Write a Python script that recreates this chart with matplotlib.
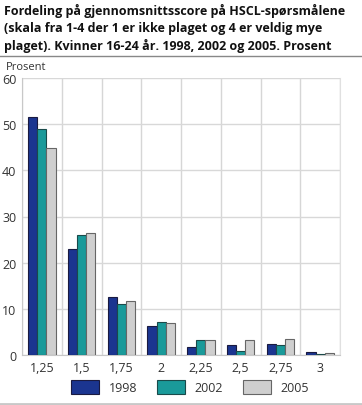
import matplotlib
matplotlib.use("Agg")
import matplotlib.pyplot as plt
import numpy as np
from matplotlib.lines import Line2D

categories = ["1,25", "1,5", "1,75", "2", "2,25", "2,5", "2,75", "3"]
series_names = ["1998", "2002", "2005"]
v1998 = [51.5, 23.0, 12.5, 6.2, 1.7, 2.2, 2.3, 0.6]
v2002 = [49.0, 26.0, 11.0, 7.1, 3.3, 0.9, 2.1, 0.3]
v2005 = [44.8, 26.4, 11.8, 6.9, 3.2, 3.3, 3.5, 0.4]
yticks = [0, 10, 20, 30, 40, 50, 60]

colors = ["#1b3590", "#1a9a9a", "#cfcfcf"]
edges = ["#1a1a40", "#1a4a4a", "#666666"]

plt.rcParams['font.family'] = ['Open Sans', 'DejaVu Sans']

fig = plt.figure(figsize=(3.62, 4.06), dpi=100)
W, H = 362, 406
ax = fig.add_axes([22 / W, 1 - 356 / H, (340 - 22) / W, (356 - 79) / H])

x = np.arange(len(categories))
bw = 0.23
for i, (vals, c, e) in enumerate(zip([v1998, v2002, v2005], colors, edges)):
    ax.bar(x + (i - 1) * bw, vals, bw, color=c, edgecolor=e, linewidth=0.8,
           label=series_names[i], zorder=3)

ax.set_xlim(-0.5, len(categories) - 0.5)
ax.set_ylim(0, 60)
ax.set_yticks(yticks)
ax.set_yticklabels([str(t) for t in yticks], fontsize=9, color="#333333")
ax.set_xticks(x)
ax.set_xticklabels(categories, fontsize=9, color="#333333")
ax.set_xticks(np.arange(len(categories) + 1) - 0.5, minor=True)
ax.grid(True, which="minor", axis="x", color="#d6d6d6", linewidth=1, zorder=0)
ax.grid(True, which="major", axis="y", color="#d8d8d8", linewidth=1, zorder=0)
ax.tick_params(axis="both", which="both", length=0, pad=4)
ax.spines["top"].set_visible(False)
ax.spines["left"].set_color("#c8c8c8")
ax.spines["bottom"].set_color("#c8c8c8")
ax.spines["right"].set_color("#e0e0e0")

fig.text(4 / W, 1 - 4 / H,
         "Fordeling på gjennomsnittsscore på HSCL-spørsmålene\n(skala fra 1-4 der 1 er ikke plaget og 4 er veldig mye\nplaget). Kvinner 16-24 år. 1998, 2002 og 2005. Prosent",
         fontsize=9.0, fontweight="bold", va="top", ha="left", color="#111111",
         linespacing=1.36)
fig.add_artist(Line2D([0, 1], [1 - 57 / H, 1 - 57 / H], color="#888888", linewidth=1))
fig.add_artist(Line2D([0, 1], [1 - 404.5 / H, 1 - 404.5 / H], color="#c8c8c8", linewidth=2))
fig.text(6 / W, 1 - 68 / H, "Prosent", fontsize=8, va="center", ha="left", color="#333333")

leg = fig.legend(loc="center", bbox_to_anchor=(190 / W, 1 - 388 / H), ncol=3,
                 frameon=False, fontsize=9, handlelength=2.2, handleheight=1.3,
                 columnspacing=1.6, handletextpad=0.8)
for t in leg.get_texts():
    t.set_color("#333333")

fig.savefig("out.png", dpi=100)
